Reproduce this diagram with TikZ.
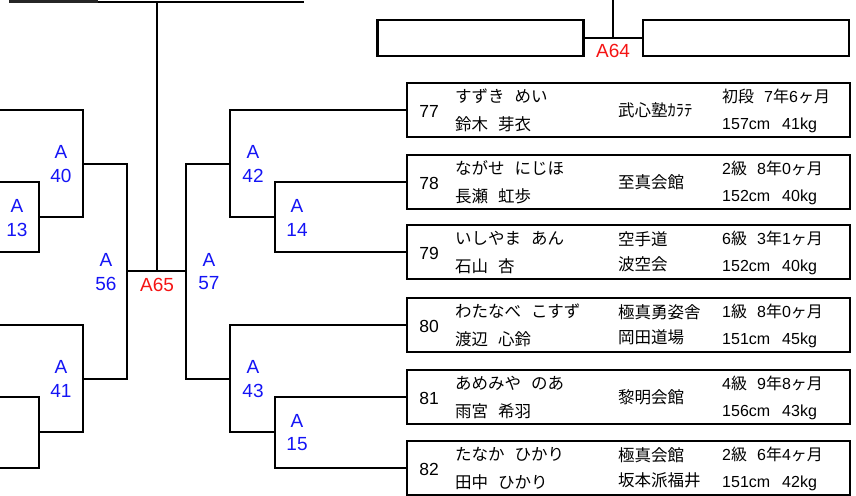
\documentclass[tikz,border=0pt]{standalone}
\usepackage{fontspec}
\setmainfont{Liberation Sans}
\newfontfamily\cjk{Noto Sans CJK JP}
\definecolor{lblblue}{RGB}{20,20,245}
\definecolor{lblred}{RGB}{245,20,20}
\newcommand\rankline[3]{#1\hspace{10pt}#2{\cjk 年}#3{\cjk ヶ月}}
\newcommand\gap{\hspace{10pt}}
\begin{document}
\begin{tikzpicture}[x=1pt,y=-1pt,
  line/.style={line width=1.4pt},
  entry/.style={draw, line width=2.2pt, minimum width=443pt, minimum height=54pt, inner sep=0pt},
  emptybox/.style={draw, line width=2.2pt, minimum width=206pt, minimum height=36pt, inner sep=0pt},
  lbl/.style={text=lblblue, font=\fontsize{19}{19}\selectfont, inner sep=0pt},
  fin/.style={text=lblred, font=\fontsize{19}{19}\selectfont, inner sep=0pt},
  num/.style={font=\fontsize{17.5}{17.5}\selectfont, inner sep=0pt},
  nm/.style={font=\cjk\fontsize{16.5}{16.5}\selectfont, anchor=west, inner sep=0pt},
  dj/.style={font=\cjk\fontsize{16.5}{25}\selectfont, anchor=west, align=left, inner sep=0pt},
  rk/.style={font=\fontsize{16}{16}\selectfont, anchor=west, inner sep=0pt},
  hw/.style={font=\fontsize{16}{16}\selectfont, anchor=west, inner sep=0pt},
]
\useasboundingbox (0,0) rectangle (856,495);

% ---- entry boxes ----
\foreach \n/\t/\ka/\kj/\dj/\rk/\hwt in {
  77/83/{すずき\gap めい}/{鈴木\gap 芽衣}/{武心塾ｶﾗﾃ}/{\rankline{{\cjk 初段}}{7}{6}}/{157cm\hspace{12pt}41kg},
  78/155/{ながせ\gap にじほ}/{長瀬\gap 虹歩}/{至真会館}/{\rankline{2{\cjk 級}}{8}{0}}/{152cm\hspace{12pt}40kg},
  79/225/{いしやま\gap あん}/{石山\gap 杏}/{空手道\\波空会}/{\rankline{6{\cjk 級}}{3}{1}}/{152cm\hspace{12pt}40kg},
  80/298/{わたなべ\gap こすず}/{渡辺\gap 心鈴}/{極真勇姿舎\\岡田道場}/{\rankline{1{\cjk 級}}{8}{0}}/{151cm\hspace{12pt}45kg},
  81/370/{あめみや\gap のあ}/{雨宮\gap 希羽}/{黎明会館}/{\rankline{4{\cjk 級}}{9}{8}}/{156cm\hspace{12pt}43kg},
  82/441/{たなか\gap ひかり}/{田中\gap ひかり}/{極真会館\\坂本派福井}/{\rankline{2{\cjk 級}}{6}{4}}/{151cm\hspace{12pt}42kg}}
{
  \node[entry] (b\n) at (628.5,{\t+27}) {};
  \node[num] (n\n) at (429,{\t+28}) {\n};
  \node[nm] (ka\n) at (455,{\t+13}) {\ka};
  \node[nm] (kj\n) at (455,{\t+41}) {\kj};
  \node[dj] (dj\n) at (618,{\t+27}) {\dj};
  \node[rk] (rk\n) at (722,{\t+13}) {\rk};
  \node[hw] (hw\n) at (722,{\t+42}) {\hwt};
}

% ---- top right empty boxes ----
\node[emptybox] (bL) at (480.5,38) {};
\node[emptybox] (bR) at (746,38) {};
\coordinate (t64) at (613,0);
\draw[line] (bL.east) -- (bR.west);
\draw[line] (t64) -- (t64 |- bL.east);
\node[fin] (A64) at (613,51) {A64};

% ---- coordinates ----
\coordinate (edge) at (0,0);
\coordinate (r42t) at (230,110); \coordinate (r42b) at (230,217);
\coordinate (r14t) at (275,182); \coordinate (r14b) at (275,252);
\coordinate (r43t) at (230,325); \coordinate (r43b) at (230,432);
\coordinate (r15t) at (275,397); \coordinate (r15b) at (275,468);
\coordinate (r57t) at (186,164); \coordinate (r57b) at (186,379);
\coordinate (l56t) at (127,164); \coordinate (l56b) at (127,379);
\coordinate (l40t) at (83,110);  \coordinate (l40b) at (83,217);
\coordinate (l13t) at (39,182);  \coordinate (l13b) at (39,252);
\coordinate (l41t) at (83,325);  \coordinate (l41b) at (83,432);
\coordinate (l12t) at (39,397);  \coordinate (l12b) at (39,468);
\coordinate (m65) at (157,271);
\coordinate (top65) at (157,2);
\coordinate (topL) at (98,2); \coordinate (topR) at (304,2);
\coordinate (barL) at (9,1.3); \coordinate (barR) at (98,1.3);

% ---- right brackets ----
\draw[line] (b77.west) -- (r42t) -- (r42b) -- (r14t |- r42b);
\draw[line] (b78.west) -- (r14t) -- (r14b) -- (b79.west);
\draw[line] (b80.west) -- (r43t) -- (r43b) -- (r15t |- r43b);
\draw[line] (b81.west) -- (r15t) -- (r15b) -- (b82.west);
\draw[line] (r42t |- r57t) -- (r57t) -- (r57b) -- (r43t |- r57b);

% ---- left brackets ----
\draw[line] (edge |- l40t) -- (l40t) -- (l40b) -- (l13t |- l40b);
\draw[line] (edge |- l13t) -- (l13t) -- (l13b) -- (edge |- l13b);
\draw[line] (edge |- l41t) -- (l41t) -- (l41b) -- (l12t |- l41b);
\draw[line] (edge |- l12t) -- (l12t) -- (l12b) -- (edge |- l12b);
\draw[line] (l40t |- l56t) -- (l56t) -- (l56b) -- (l41t |- l56b);

% ---- centre ----
\draw[line] (l56t |- m65) -- (r57t |- m65);
\draw[line] (m65) -- (top65);
\draw[line] (topL) -- (topR);
\draw[line width=2.7pt, draw=black!85] (barL) -- (barR);

% ---- labels ----
\foreach \nm/\x/\y in {40/61/152, 13/17/206, 41/61/367, 56/106/260, 57/209/260, 42/253/152, 14/297/206, 43/253/367, 15/297/420.5}
{
  \node[lbl] (A\nm) at (\x,\y) {A};
  \node[lbl] (N\nm) at (\x,{\y+23.5}) {\nm};
}
\node[fin] (A65) at (157,284.5) {A65};
\end{tikzpicture}
\end{document}
